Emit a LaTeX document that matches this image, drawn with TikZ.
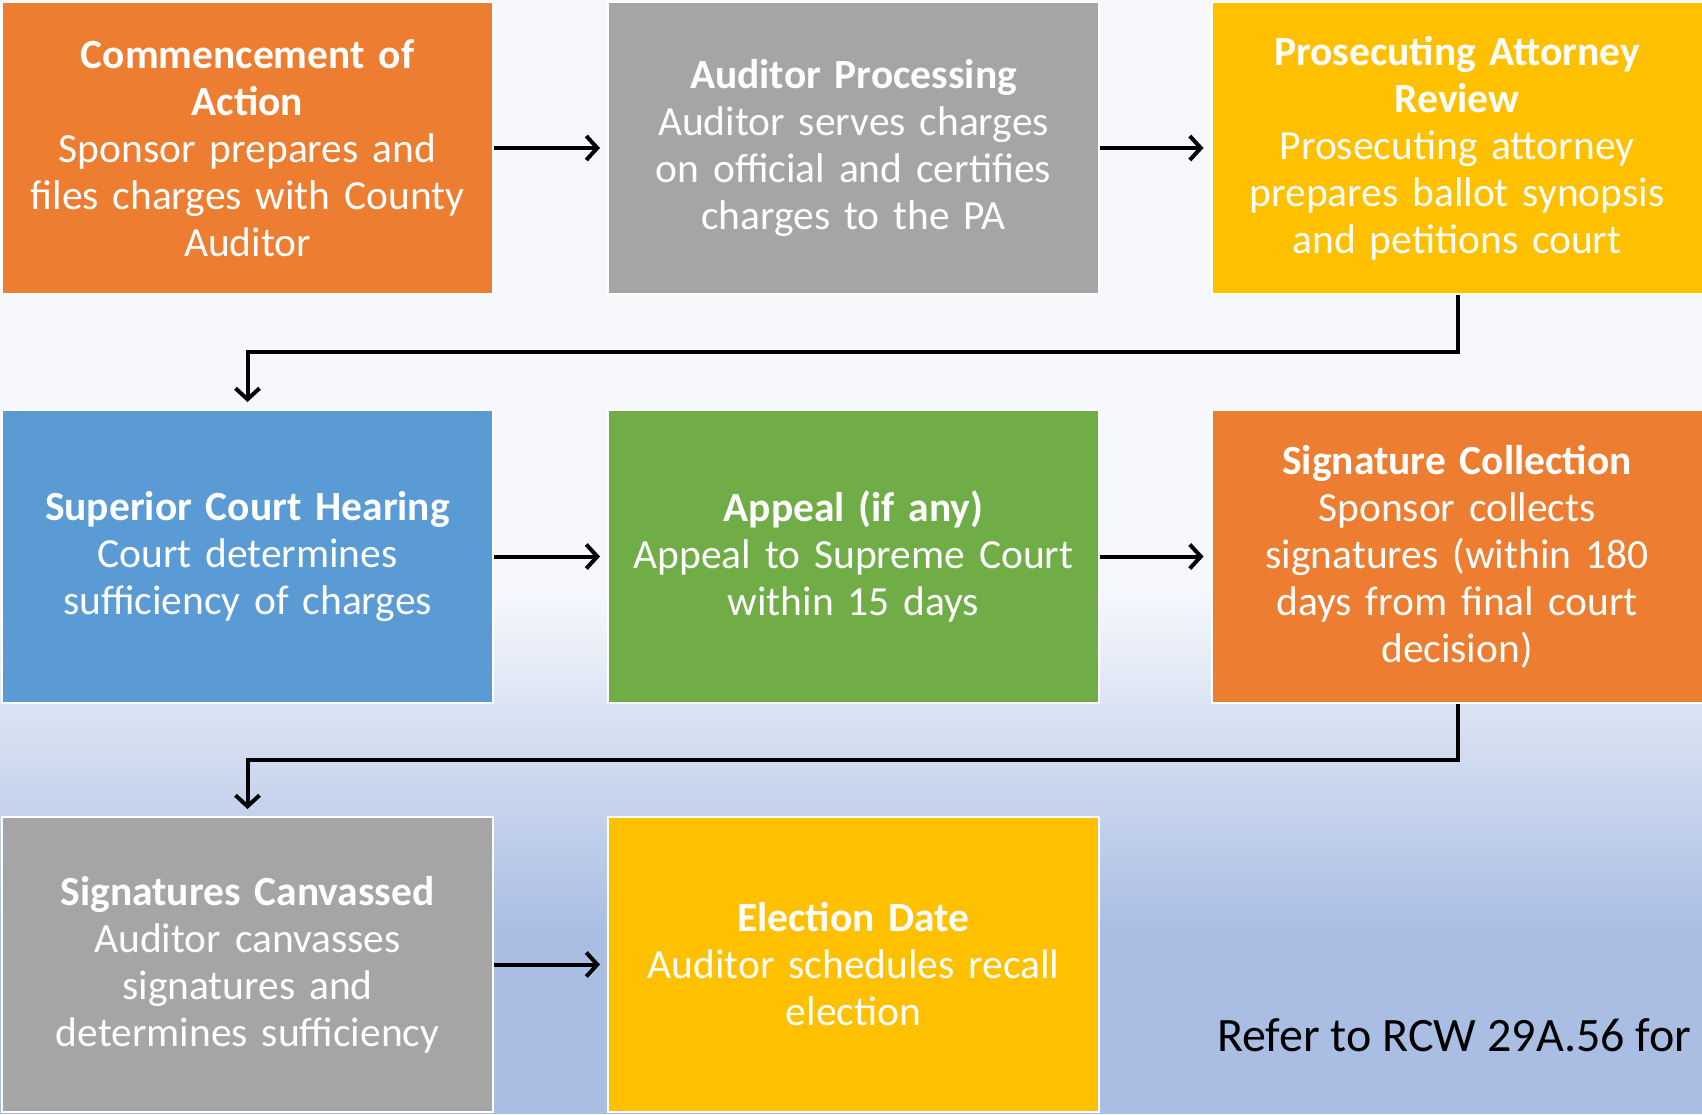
\documentclass[tikz,border=0pt]{standalone}
\usepackage{fontspec}
\setmainfont{Carlito}
\usetikzlibrary{arrows.meta}
\definecolor{bgtop}{HTML}{F6F8FC}
\definecolor{bgbot}{HTML}{AABEE4}
\definecolor{corange}{HTML}{ED7D31}
\definecolor{cgray}{HTML}{A5A5A5}
\definecolor{cgold}{HTML}{FFC000}
\definecolor{cblue}{HTML}{5B9BD5}
\definecolor{cgreen}{HTML}{70AD47}
\tikzset{
  stepbox/.style={rectangle, draw=white, line width=2pt, minimum width=491pt,
    minimum height=292pt, text width=480pt, align=center, text=white, inner sep=0pt,
    font=\fontsize{41.5}{47}\selectfont},
  flow/.style={line width=4pt, draw=black, shorten >=7pt,
    -{Straight Barb[length=11pt,width=24pt,line width=4pt]}},
}
\begin{document}
\begin{tikzpicture}[x=1pt,y=-1pt]
\useasboundingbox (0,0) rectangle (1702,1114);
\fill[bgtop] (0,0) rectangle (1702,590);
\shade[top color=bgtop, bottom color=bgbot] (0,589) rectangle (1702,930);
\fill[bgbot] (0,929) rectangle (1702,1114);

\node[stepbox, fill=corange] (n1) at (247.5,148) {\textbf{Commencement of\\Action}\\Sponsor prepares and\\files charges with County\\Auditor};
\node[stepbox, fill=cgray] (n2) at (853.5,148) {\textbf{Auditor Processing}\\Auditor serves charges\\on official and certifies\\charges to the PA};
\node[stepbox, fill=cgold] (n3) at (1457,148) {\textbf{Prosecuting Attorney\\Review}\\Prosecuting attorney\\prepares ballot synopsis\\and petitions court};

\node[stepbox, fill=cblue, minimum height=293pt] (n4) at (247.5,556.5) {\textbf{Superior Court Hearing}\\Court determines\\sufficiency of charges};
\node[stepbox, fill=cgreen, minimum height=293pt] (n5) at (853.5,556.5) {\textbf{Appeal (if any)}\\Appeal to Supreme Court\\within 15 days};
\node[stepbox, fill=corange, minimum height=293pt] (n6) at (1457,556.5) {\textbf{Signature Collection}\\Sponsor collects\\signatures (within 180\\days from final court\\decision)};

\node[stepbox, fill=cgray, minimum height=295pt] (n7) at (247.5,964.5) {\textbf{Signatures Canvassed}\\Auditor canvasses\\signatures and\\determines sufficiency};
\node[stepbox, fill=cgold, minimum height=295pt] (n8) at (853.5,964.5) {\textbf{Election Date}\\Auditor schedules recall\\election};

\node[font=\fontsize{48}{56}\selectfont, text=black, anchor=west, inner sep=0pt] (note) at (1217,1035) {Refer to RCW 29A.56 for};

\draw[flow] (n1.east) -- (n2.west);
\draw[flow] (n2.east) -- (n3.west);
\draw[flow] (n4.east) -- (n5.west);
\draw[flow] (n5.east) -- (n6.west);
\draw[flow] (n7.east) -- (n8.west);

\coordinate (e1) at (1458,352);
\coordinate (e2) at (247.5,352);
\draw[flow] (n3.south -| e1) -- (e1) -- (e2) -- (n4.north);
\coordinate (f1) at (1458,760);
\coordinate (f2) at (247.5,760);
\draw[flow] (n6.south -| f1) -- (f1) -- (f2) -- (n7.north);
\end{tikzpicture}
\end{document}
